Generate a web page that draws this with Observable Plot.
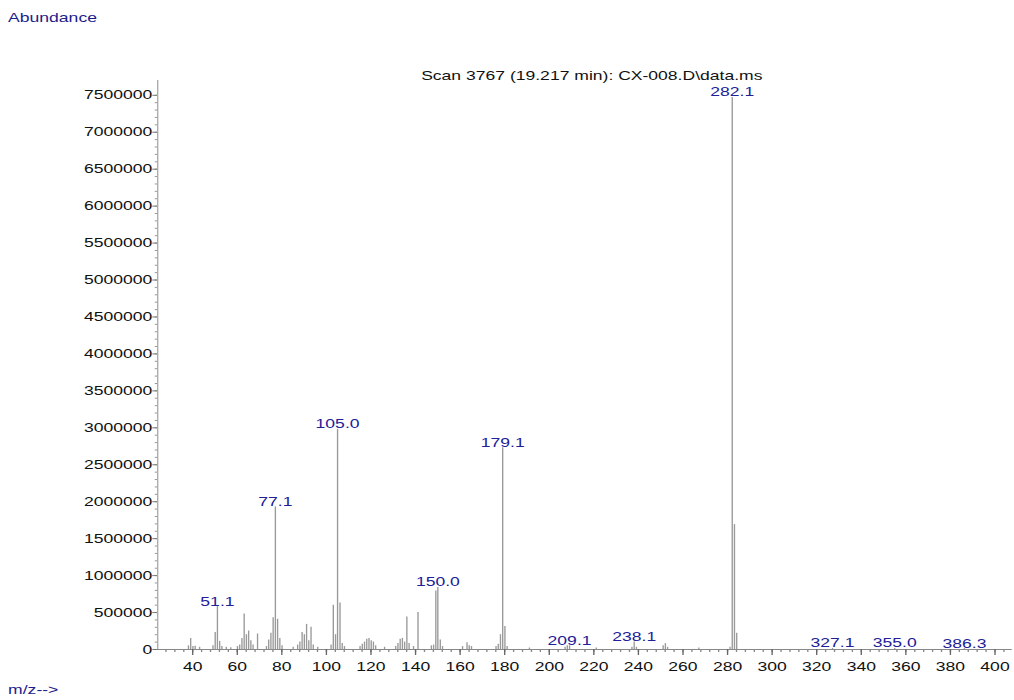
<!DOCTYPE html>
<html>
<head>
<meta charset="utf-8">
<script src="https://cdn.jsdelivr.net/npm/d3@7"></script>
<script src="https://cdn.jsdelivr.net/npm/@observablehq/plot@0.6"></script>
<style>
  html, body { margin: 0; padding: 0; background: #fff; overflow: hidden; }
  /* The spectrum is laid out on a narrower canvas and widened as a whole,
     so text and sticks share the same horizontal stretch. */
  #sheet {
    position: relative;
    width: 751px;
    height: 700px;
    transform: scaleX(1.3502);
    transform-origin: 0 0;
    font-family: "Liberation Sans", Arial, sans-serif;
  }
  #sheet svg { position: absolute; left: 0; top: 0; z-index: 0; }
  .note {
    position: absolute;
    z-index: 1;
    font-size: 13px;
    line-height: 15px;
    color: #1c1c8c;
    white-space: pre;
  }
  #ylab { left: 6px; top: 10px; }
  #xlab { left: 6px; top: 682px; }
</style>
</head>
<body>
<div id="sheet">
  <div class="note" id="ylab">Abundance</div>
  <div class="note" id="xlab">m/z--&gt;</div>
</div>
<script>
// Scan header
const scanTitle = "Scan 3767 (19.217 min): CX-008.D\\data.ms";

// m/z of each ion in the scan
const mz = [
  38.1, 39.1, 40.1, 41.1, 43.1, 49.1, 50.1, 51.1, 52.1, 53.1, 55.1, 57.1,
  60.1, 61.1, 62.1, 63.1, 64.1, 65.1, 66.1, 67.1, 69.1, 73.1, 74.1, 75.1,
  76.1, 77.1, 78.1, 79.1, 80.1, 85.1, 87.1, 88.1, 89.1, 90.1, 91.1, 92.1,
  93.1, 94.1, 96.1, 102.1, 103.1, 104.1, 105.0, 106.1, 107.1, 108.1, 115.1, 116.1,
  117.1, 118.1, 119.1, 120.1, 121.1, 122.1, 126.1, 131.1, 132.1, 133.1, 134.1, 135.1,
  136.1, 137.1, 139.1, 141.1, 147.1, 148.1, 149.1, 150.0, 151.1, 152.1, 161.1, 163.1,
  164.1, 165.1, 176.1, 177.1, 178.1, 179.1, 180.1, 181.1, 191.1, 207.1, 208.1, 209.1,
  221.1, 237.1, 238.1, 239.1, 251.1, 252.1, 253.1, 267.1, 281.1, 282.1, 283.1, 284.1,
  327.1, 355.0, 386.3
];

// Abundance of each ion (same order as mz)
const abundance = [
  50000, 150000, 40000, 45000, 30000, 50000, 230000, 580000, 110000, 40000, 30000, 25000,
  40000, 60000, 150000, 480000, 200000, 250000, 120000, 60000, 210000, 40000, 130000, 220000,
  430000, 1930000, 410000, 150000, 50000, 30000, 60000, 100000, 230000, 200000, 340000, 120000,
  300000, 60000, 30000, 60000, 600000, 200000, 2980000, 630000, 80000, 40000, 40000, 70000,
  100000, 140000, 150000, 120000, 100000, 50000, 30000, 40000, 80000, 140000, 150000, 100000,
  440000, 80000, 40000, 500000, 50000, 60000, 790000, 840000, 130000, 40000, 40000, 90000,
  50000, 40000, 40000, 70000, 200000, 2730000, 310000, 40000, 20000, 30000, 50000, 50000,
  20000, 30000, 100000, 30000, 50000, 80000, 30000, 20000, 30000, 7470000, 1690000, 220000,
  15000, 15000, 12000
];

// Ions annotated with their m/z
const labelledMz = [51.1, 77.1, 105.0, 150.0, 179.1, 209.1, 238.1, 282.1, 327.1, 355.0, 386.3];

// Axis ticks
const yMajorTicks = d3.range(0, 7500001, 500000);
const yMinorTicks = d3.range(0, 7500001, 100000);
const xMajorTicks = d3.range(40, 401, 20);
const xMinorTicks = d3.range(28, 408, 4);

const peaks = mz.map((m, i) => ({mz: m, abundance: abundance[i]}));
const labelled = labelledMz.map(m => peaks.find(p => p.mz === m));

const xDomain = [24.3, 407.8];
const font = "Liberation Sans, Arial, sans-serif";

const chart = Plot.plot({
  width: 751,
  height: 700,
  marginLeft: 116.3,
  marginRight: 1.7,
  marginTop: 80,
  marginBottom: 51,
  style: {fontFamily: font, fontSize: "13px", background: "transparent", color: "#111"},
  x: {domain: xDomain, label: null},
  y: {domain: [0, 7700000], label: null},
  marks: [
    // axis lines
    Plot.ruleX([xDomain[0]], {stroke: "#aaa"}),
    Plot.ruleY([0], {stroke: "#888"}),
    // y axis: minor and labelled ticks
    Plot.axisY(yMinorTicks, {anchor: "left", tickSize: 1.7, fill: "none", stroke: "#999", label: null}),
    Plot.axisY(yMajorTicks, {anchor: "left", tickSize: 3.5, tickPadding: 0.5, tickFormat: d3.format("d"),
      stroke: "#777", fill: "#111", fontSize: 13, label: null}),
    // x axis: minor and labelled ticks
    Plot.axisX(xMinorTicks, {anchor: "bottom", tickSize: 3, fill: "none", stroke: "#888", label: null}),
    Plot.axisX(xMajorTicks, {anchor: "bottom", tickSize: 6, tickPadding: 6, tickFormat: d3.format("d"),
      stroke: "#666", fill: "#111", fontSize: 13, label: null}),
    // spectrum sticks
    Plot.ruleX(peaks, {x: "mz", y1: 0, y2: "abundance", stroke: "#999", strokeWidth: 1}),
    // peak annotations
    Plot.text(labelled, {
      x: "mz", y: "abundance", text: d => d3.format(".1f")(d.mz),
      lineAnchor: "bottom", dy: -1, fill: "#202098", fontSize: 13, fontFamily: font
    }),
    // scan header
    Plot.text([scanTitle], {
      frameAnchor: "top", text: d => d, lineAnchor: "bottom", dx: 5, dy: -1,
      fill: "#111", fontSize: 13, fontFamily: font
    })
  ]
});

document.getElementById("sheet").appendChild(chart);
</script>
</body>
</html>
